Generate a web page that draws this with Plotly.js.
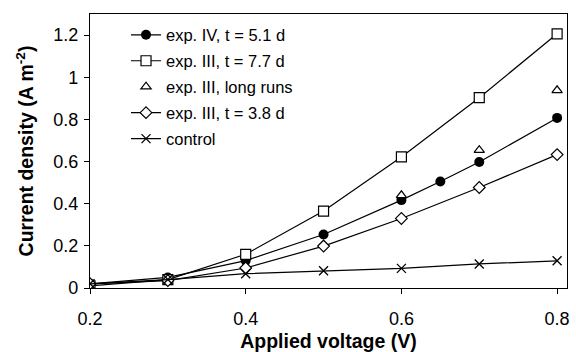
<!DOCTYPE html>
<html>
<head>
<meta charset="utf-8">
<script src="https://cdn.plot.ly/plotly-3.0.1.min.js"></script>
<style>html,body{margin:0;padding:0;background:#fff}#chart{width:576px;height:352px}</style>
</head>
<body>
<div id="chart"></div>
<script>
const seriesNames = ["exp. IV, t = 5.1 d", "exp. III, t = 7.7 d", "exp. III, long runs", "exp. III, t = 3.8 d", "control"];
const xIV = [0.2, 0.3, 0.4, 0.5, 0.6, 0.65, 0.7, 0.8];
const yIV = [0.02, 0.05, 0.13, 0.254, 0.417, 0.505, 0.598, 0.807];
const x77 = [0.2, 0.3, 0.4, 0.5, 0.6, 0.7, 0.8];
const y77 = [0.01, 0.04, 0.16, 0.365, 0.622, 0.903, 1.206];
const xLong = [0.6, 0.7, 0.8];
const yLong = [0.44, 0.654, 0.938];
const x38 = [0.2, 0.3, 0.4, 0.5, 0.6, 0.7, 0.8];
const y38 = [0.02, 0.035, 0.095, 0.199, 0.33, 0.477, 0.633];
const xCtl = [0.2, 0.3, 0.4, 0.5, 0.6, 0.7, 0.8];
const yCtl = [0.02, 0.04, 0.068, 0.082, 0.093, 0.114, 0.129];
const xTicks = [0.2, 0.4, 0.6, 0.8];
const xTickText = ["0.2", "0.4", "0.6", "0.8"];
const yTicks = [0, 0.2, 0.4, 0.6, 0.8, 1, 1.2];
const yTickText = ["0", "0.2", "0.4", "0.6", "0.8", "1", "1.2"];

const line = {color: "#000", width: 1.2};
const traces = [
  {x: xIV, y: yIV, name: seriesNames[0], mode: "lines+markers", line: line,
   marker: {symbol: "circle", size: 10, color: "#000"}, legendgroup: "a"},
  {x: x77, y: y77, name: seriesNames[1], mode: "lines+markers", line: line,
   marker: {symbol: "square", size: 10, color: "#fff", line: {color: "#000", width: 1.2}}, legendgroup: "b"},
  {x: xLong, y: yLong, name: seriesNames[2], mode: "markers",
   marker: {symbol: "triangle-up", size: 9, color: "#fff", line: {color: "#000", width: 1.2}}, legendgroup: "c"},
  {x: x38, y: y38, name: seriesNames[3], mode: "lines+markers", line: line,
   marker: {symbol: "diamond", size: 9, color: "#fff", line: {color: "#000", width: 1.2}}, legendgroup: "d"},
  {x: xCtl, y: yCtl, name: seriesNames[4], mode: "lines+markers", line: line,
   marker: {symbol: "x-thin", size: 9, color: "#000", line: {color: "#000", width: 1.3}}, legendgroup: "e"}
];

const font = {family: "Liberation Sans, Arial, sans-serif", color: "#000"};
const layout = {
  width: 576, height: 352,
  margin: {l: 90, r: 9, t: 14, b: 64},
  paper_bgcolor: "#fff", plot_bgcolor: "#fff",
  font: Object.assign({size: 16}, font),
  showlegend: true,
  legend: {x: 0.0755, y: 0.987, xanchor: "left", yanchor: "top", bgcolor: "rgba(0,0,0,0)",
           font: Object.assign({size: 16.5}, font), tracegroupgap: 1.5, traceorder: "grouped",
           itemwidth: 30},
  xaxis: {range: [0.2, 0.8127], tickvals: xTicks, ticktext: xTickText,
          ticks: "outside", ticklen: 5, tickcolor: "#000", showgrid: false, zeroline: false,
          showline: true, linecolor: "#000", linewidth: 1.2, mirror: true,
          ticklabelstandoff: 9,
          tickfont: Object.assign({size: 18}, font),
          title: {text: "<b>Applied voltage (V)</b>", font: Object.assign({size: 19.5}, font), standoff: 9}},
  yaxis: {range: [0, 1.3], tickvals: yTicks, ticktext: yTickText,
          ticks: "outside", ticklen: 5, tickcolor: "#000", showgrid: false, zeroline: false,
          showline: true, linecolor: "#000", linewidth: 1.2, mirror: true,
          ticklabelstandoff: 2,
          tickfont: Object.assign({size: 18}, font),
          title: {text: "<b>Current density (A m<sup>-2</sup>)</b>", font: Object.assign({size: 19.5}, font), standoff: 14}}
};
Plotly.newPlot("chart", traces, layout, {displayModeBar: false, staticPlot: true});
</script>
</body>
</html>
